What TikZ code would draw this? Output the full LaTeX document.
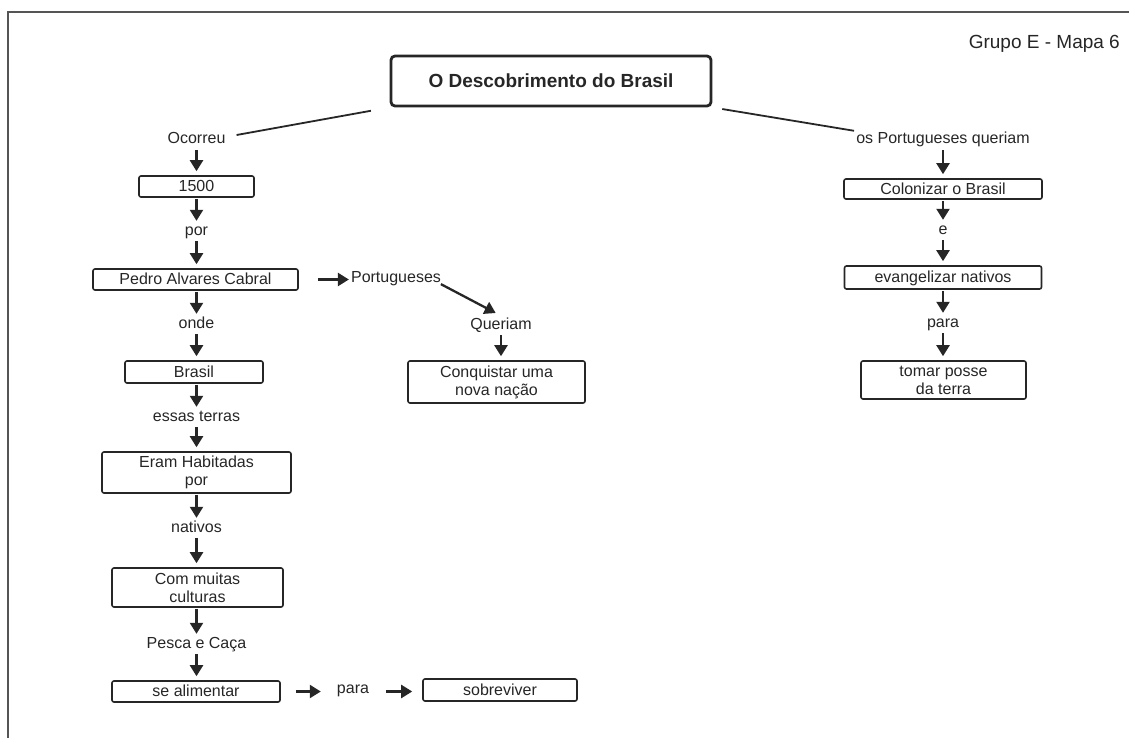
\documentclass[tikz,border=0pt]{standalone}
\usepackage{fontspec}
\setmainfont{Liberation Sans}
\usetikzlibrary{arrows.meta}
\definecolor{ink}{HTML}{262626}
\definecolor{rule}{HTML}{555555}

\begin{document}
\begin{tikzpicture}[x=1pt,y=-1pt,
  every node/.style={text=ink},
  lbl/.style={font=\fontsize{16}{18}\selectfont, inner sep=2pt, text height=11pt, text depth=3pt},
  sbox/.style={draw=ink, line width=1.6pt, rounded corners=2pt, inner sep=0pt,
    font=\fontsize{16}{18}\selectfont, text height=11.5pt, text depth=1pt},
  mbox/.style={draw=ink, line width=1.6pt, rounded corners=2pt, inner sep=0pt,
    align=center, font=\fontsize{16}{18}\selectfont},
  headbox/.style={draw=ink, line width=2.8pt, rounded corners=4pt, inner sep=0pt,
    minimum width=320pt, minimum height=50pt, font=\fontsize{19}{22}\bfseries\selectfont},
  link/.style={draw=ink, line width=1.8pt},
  arr/.style={draw=ink, line width=2.3pt, -{Triangle[width=13pt,length=11pt]},
    shorten <=1pt, shorten >=1pt},
  arrb/.style={arr, shorten >=4pt}
]
% page frame: top and left rules only
\useasboundingbox (0,0) rectangle (1129,738);
\draw[rule, line width=1.5pt] (1129,12) -- (8,12) -- (8,738);

% heading and group tag
\node[headbox] (title) at (551,81) {O Descobrimento do Brasil};
\node[lbl, anchor=east, font=\fontsize{19}{22}\selectfont] (grupo) at (1122,45) {Grupo E - Mapa 6};

% left column
\node[lbl] (ocorreu) at (196.5,140) {Ocorreu};
\node[sbox, minimum width=115pt, minimum height=21pt] (ano) at (196.5,186.5) {1500};
\node[lbl] (por) at (196.5,231) {por};
\node[sbox, minimum width=205pt, minimum height=21pt] (pedro) at (195.5,279.5) {Pedro Alvares Cabral};
\node[lbl] (onde) at (196.5,324) {onde};
\node[sbox, minimum width=138pt, minimum height=22pt] (brasil) at (194,372) {Brasil};
\node[lbl] (terras) at (196.5,417) {essas terras};
\node[mbox, minimum width=189pt, minimum height=41pt] (eram) at (196.5,472.5) {Eram Habitadas\\por};
\node[lbl] (nativos) at (196.5,528) {nativos};
\node[mbox, minimum width=171pt, minimum height=39pt] (culturas) at (197.5,587.5) {Com muitas\\culturas};
\node[lbl] (pesca) at (196.5,644) {Pesca e Caça};
\node[sbox, minimum width=168pt, minimum height=21pt] (alimentar) at (196,691.5) {se alimentar};
\node[lbl] (paraA) at (353,689) {para};
\node[sbox, minimum width=154pt, minimum height=22pt] (sobreviver) at (500,690) {sobreviver};

% middle branch
\node[lbl] (port) at (396,278) {Portugueses};
\node[lbl] (queriam) at (501,325) {Queriam};
\node[mbox, minimum width=177pt, minimum height=42pt] (conquistar) at (496.5,382) {Conquistar uma\\nova nação};

% right column
\node[lbl] (osport) at (943,140) {os Portugueses queriam};
\node[sbox, minimum width=198pt, minimum height=20pt] (colonizar) at (943,189) {Colonizar o Brasil};
\node[lbl] (e) at (943,230) {e};
\node[sbox, minimum width=197pt, minimum height=23pt] (evang) at (943,277.5) {evangelizar nativos};
\node[lbl] (paraB) at (943,323) {para};
\node[mbox, minimum width=165pt, minimum height=38pt] (tomar) at (943.5,380) {tomar posse\\da terra};

% links from the heading
\draw[link, shorten <=19pt] (title.south west) -- ([shift={(9,-5)}]ocorreu.east);
\draw[link, shorten <=10pt] (title.south east) -- (osport.north west);

% left column arrows
\draw[arrb] (ocorreu.south) -- (ocorreu.south |- ano.north);
\draw[arr]  (ano.south) -- (ano.south |- por.north);
\draw[arrb] (por.south) -- (por.south |- pedro.north);
\draw[arr]  (por.south |- pedro.south) -- (onde.north);
\draw[arrb] (onde.south) -- (onde.south |- brasil.north);
\draw[arr]  (onde.south |- brasil.south) -- (terras.north);
\draw[arrb] (terras.south) -- (terras.south |- eram.north);
\draw[arr]  (eram.south) -- (nativos.north);
\draw[arrb] (nativos.south) -- (nativos.south |- culturas.north);
\draw[arr]  (nativos.south |- culturas.south) -- (pesca.north);
\draw[arrb] (pesca.south) -- (pesca.south |- alimentar.north);
\draw[arr, shorten <=15pt, shorten >=14pt] (alimentar.east) -- (paraA.west |- alimentar.east);
\draw[arr, shorten <=15pt, shorten >=10pt] (paraA.east |- alimentar.east) -- (sobreviver.west |- alimentar.east);

% middle branch arrows
\draw[arr, shorten <=19pt, shorten >=0pt] (pedro.east) -- (port.west |- pedro.east);
\draw[arr, shorten <=2pt, shorten >=6pt] ([shift={(-4,-4)}]port.south east) -- (queriam.north);
\draw[arrb] (queriam.south) -- (queriam.south |- conquistar.north);

% right column arrows
\draw[arrb] (osport.south) -- (osport.south |- colonizar.north);
\draw[arr]  (colonizar.south) -- (e.north);
\draw[arrb] (e.south) -- (e.south |- evang.north);
\draw[arr]  (evang.south) -- (paraB.north);
\draw[arrb] (paraB.south) -- (paraB.south |- tomar.north);
\end{tikzpicture}
\end{document}
